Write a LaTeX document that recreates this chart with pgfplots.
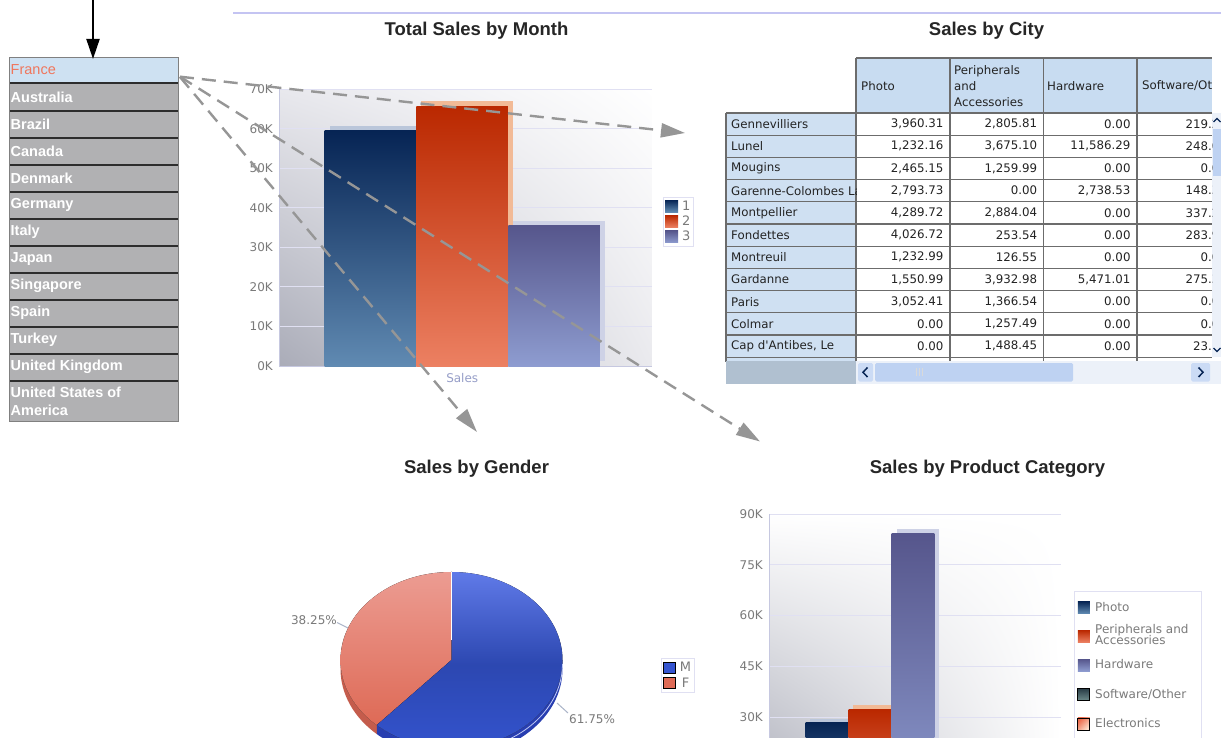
\documentclass[border=0pt]{standalone}
\usepackage{pgfplots}
\pgfplotsset{compat=1.18}
\usepackage{pgfplotstable}
\usepackage{fontspec}
\setmainfont{Liberation Sans}
\newfontfamily\dejavu{DejaVu Sans}
\usetikzlibrary{arrows.meta,shadings}

% ---------- colours ----------
\definecolor{gridline}{RGB}{224,224,242}
\definecolor{axisline}{RGB}{198,200,224}
\definecolor{ticktext}{RGB}{122,122,122}
\definecolor{titletext}{RGB}{38,38,38}
\definecolor{saleslabel}{RGB}{150,158,200}
\definecolor{listgrey}{RGB}{177,177,179}
\definecolor{listsel}{RGB}{206,225,242}
\definecolor{listsep}{RGB}{45,45,45}
\definecolor{listred}{RGB}{240,118,92}
\definecolor{topline}{RGB}{196,196,242}
\definecolor{dashgrey}{RGB}{150,150,150}
\definecolor{navyA}{RGB}{6,36,84}
\definecolor{navyB}{RGB}{96,138,178}
\definecolor{redA}{RGB}{186,40,0}
\definecolor{redB}{RGB}{236,128,98}
\definecolor{lavA}{RGB}{86,86,140}
\definecolor{lavB}{RGB}{142,156,208}
\definecolor{navyFace}{RGB}{186,198,218}
\definecolor{redFace}{RGB}{242,186,150}
\definecolor{lavFace}{RGB}{206,210,230}
\definecolor{slateA}{RGB}{40,60,70}
\definecolor{slateB}{RGB}{110,140,140}
\definecolor{elecA}{RGB}{236,108,78}
\definecolor{elecB}{RGB}{252,226,206}
\definecolor{bgA}{RGB}{232,232,237}
\definecolor{bgB}{RGB}{170,172,184}
\definecolor{bgC}{RGB}{234,234,238}
\definecolor{hdrblue}{RGB}{200,220,241}
\definecolor{rowblue}{RGB}{207,224,242}
\definecolor{cellline}{RGB}{108,108,108}
\definecolor{tabletext}{RGB}{35,35,35}
\definecolor{scrolltrack}{RGB}{236,241,249}
\definecolor{scrollthumb}{RGB}{190,210,242}
\definecolor{scrollcorner}{RGB}{176,192,208}
\definecolor{pieMA}{RGB}{96,122,232}
\definecolor{pieMB}{RGB}{52,84,208}
\definecolor{pieMside}{RGB}{40,62,176}
\definecolor{pieFA}{RGB}{236,156,146}
\definecolor{pieFB}{RGB}{222,106,86}
\definecolor{pieFside}{RGB}{196,92,76}
\definecolor{leader}{RGB}{170,180,200}

% ---------- fonts ----------
\newcommand\tickfont{\dejavu\fontsize{12}{14}\selectfont}
\newcommand\legfont{\dejavu\fontsize{12}{14}\selectfont\color{ticktext}}
\newcommand\smalllegfont{\dejavu\fontsize{13}{14}\selectfont\color{ticktext}}
\newcommand\titlefont{\bfseries\fontsize{18.5}{22}\selectfont\color{titletext}}
\newcommand\tablefont{\dejavu\fontsize{11.8}{16}\selectfont\color{tabletext}}
\newcommand\listfont{\bfseries\fontsize{14.5}{16}\selectfont}

% ---------- data ----------
\pgfplotstableread{
gender share
M 61.75
F 38.25
}\genderdata
\pgfplotstablegetelem{1}{share}\of\genderdata
\let\shareF\pgfplotsretval

\pgfplotsset{
  lightaxis/.style={
    scale only axis, clip=false,
    axis lines*=left, axis line style={axisline, line width=1pt, -},
    ymajorgrids, grid style={gridline, line width=1pt},
    major tick length=0pt, scaled y ticks=false,
    yticklabel style={font=\tickfont, text=ticktext, xshift=-3pt},
    legend cell align=left,
  },
}

\begin{document}
\begin{tikzpicture}[x=1pt,y=1pt]
\useasboundingbox (0,0) rectangle (1221,-738);
\clip (0,0) rectangle (1221,-738);
\fill[white] (0,0) rectangle (1221,-738);

% ---------- country list ----------
\fill[listsel] (9,-57) rectangle (178,-83.5);
\fill[listgrey] (9,-83.5) rectangle (178,-421);
\foreach \yy in {83.5,111,138,165,192,219,246,273,300,327,354,381}
  \draw[listsep, line width=2pt] (9,-\yy) -- (178,-\yy);
\draw[gray, line width=0.8pt] (9,-57) rectangle (178,-421);
\node[anchor=west, inner sep=0pt, text=listred, font=\listfont\mdseries] at (10.5,-70) {France};
\foreach \nm/\yy in {Australia/97, Brazil/124, Canada/151, Denmark/178, Germany/205,
  Italy/232, Japan/259, Singapore/286, Spain/313, Turkey/340, United Kingdom/367,
  United States of/392, America/410}
  \node[anchor=west, inner sep=0pt, text=white, font=\listfont] at (10.5,-\yy) {\nm};

% rule along the top
\draw[topline, line width=2pt] (233,-13.3) -- (1221,-13.3);

% ---------- titles ----------
\node[font=\titlefont] at (476.5,-30.5) {Total Sales by Month};
\node[font=\titlefont] at (986.5,-30.5) {Sales by City};
\node[font=\titlefont] at (476.5,-468.5) {Sales by Gender};
\node[font=\titlefont] at (987.5,-468.5) {Sales by Product Category};

% ---------- Total Sales by Month ----------
\begin{axis}[lightaxis,
  at={(279.3pt,-366pt)}, anchor=south west,
  width=372.4pt, height=276.7pt,
  xmin=0.011, xmax=4.06, ymin=0, ymax=70000,
  ytick={0,10000,...,70000},
  yticklabels={0K,10K,20K,30K,40K,50K,60K,70K},
  xtick={2}, xticklabels={Sales},
  xticklabel style={font=\tickfont, text=saleslabel, yshift=-4pt},
  axis background/.style={shade, upper left=bgA, lower left=bgB, upper right=white, lower right=bgC},
  bar width=91.5pt,
  legend style={at={(1.0295,0.612)}, anchor=north west, draw=gridline, line width=0.8pt,
    fill=white, font=\smalllegfont, inner xsep=2pt, inner ysep=2pt, row sep=1.3pt,
    nodes={inner sep=1.5pt},
    /tikz/every odd column/.append style={column sep=2.5pt}},
  legend image code/.code={\fill[#1] (0pt,-6pt) rectangle (13pt,6pt);},
]
\addplot[ybar, bar shift=0pt, draw=none, fill=navyFace, xshift=5pt, yshift=5pt, forget plot] coordinates {(1,59500)};
\addplot[ybar, bar shift=0pt, draw=none, top color=navyA, bottom color=navyB] coordinates {(1,59500)};
\addlegendentry{1}
\addplot[ybar, bar shift=0pt, draw=none, fill=redFace, xshift=5pt, yshift=5pt, forget plot] coordinates {(2,65700)};
\addplot[ybar, bar shift=0pt, draw=none, top color=redA, bottom color=redB] coordinates {(2,65700)};
\addlegendentry{2}
\addplot[ybar, bar shift=0pt, draw=none, fill=lavFace, xshift=5pt, yshift=5pt, forget plot] coordinates {(3,35500)};
\addplot[ybar, bar shift=0pt, draw=none, top color=lavA, bottom color=lavB] coordinates {(3,35500)};
\addlegendentry{3}
\end{axis}

% ---------- Sales by City ----------
\fill[hdrblue] (856,-58) rectangle (1212,-113);
\fill[rowblue] (726,-113) rectangle (856,-362);
\fill[scrolltrack] (1212,-113) rectangle (1221,-357);
\fill[scrollthumb] (1213,-129) rectangle (1221,-176);
\begin{scope}[cellline, line width=1.3pt]
  \draw (856,-58) -- (1212,-58);
  \foreach \yy in {113,135.2,157.4,179.6,201.8,224,246.2,268.4,290.6,312.8,335,357.2}
    \draw (726,-\yy) -- (1212,-\yy);
  \draw (726,-113) -- (726,-362);
  \draw (856,-58) -- (856,-362);
  \foreach \xx in {950,1043.3,1137}
    \draw (\xx,-58) -- (\xx,-362);
\end{scope}
\node[anchor=west, font=\tablefont, inner sep=0pt] at (861,-86) {Photo};
\node[anchor=west, font=\tablefont, align=left, inner sep=0pt] at (954,-86) {Peripherals\\and\\Accessories};
\node[anchor=west, font=\tablefont, inner sep=0pt] at (1047,-86) {Hardware};
\begin{scope}
  \clip (1137,-58) rectangle (1212,-113);
  \node[anchor=west, font=\tablefont, inner sep=0pt] at (1142,-86) {Software/Other};
\end{scope}
\foreach \i/\nm/\pa/\pb/\pc/\pd in {
  1/Gennevilliers/{3,960.31}/{2,805.81}/0.00/219.26,
  2/Lunel/{1,232.16}/{3,675.10}/{11,586.29}/248.05,
  3/Mougins/{2,465.15}/{1,259.99}/0.00/0.00,
  4/Garenne-Colombes La/{2,793.73}/0.00/{2,738.53}/148.32,
  5/Montpellier/{4,289.72}/{2,884.04}/0.00/337.28,
  6/Fondettes/{4,026.72}/253.54/0.00/283.90,
  7/Montreuil/{1,232.99}/126.55/0.00/0.00,
  8/Gardanne/{1,550.99}/{3,932.98}/{5,471.01}/275.34,
  9/Paris/{3,052.41}/{1,366.54}/0.00/0.00,
  10/Colmar/0.00/{1,257.49}/0.00/0.00,
  11/{Cap d'Antibes, Le}/0.00/{1,488.45}/0.00/23.15}{
  \pgfmathsetmacro\yc{-(113+22.2*(\i-0.5))}
  \begin{scope}
    \clip (726,-100) rectangle (856,-400);
    \node[anchor=west, font=\tablefont, inner sep=0pt] at (731,\yc) {\nm};
  \end{scope}
  \node[anchor=east, font=\tablefont, inner sep=0pt] at (943.5,\yc) {\pa};
  \node[anchor=east, font=\tablefont, inner sep=0pt] at (1037.3,\yc) {\pb};
  \node[anchor=east, font=\tablefont, inner sep=0pt] at (1130.7,\yc) {\pc};
  \begin{scope}
    \clip (1137,-100) rectangle (1212,-400);
    \node[anchor=east, font=\tablefont, inner sep=0pt] at (1227,\yc) {\pd};
  \end{scope}
}
% scroll bars
\fill[scrollcorner] (726,-361) rectangle (856,-383.5);
\fill[scrolltrack] (856,-361) rectangle (1221,-383.5);
\fill[scrollthumb, rounded corners=1.5pt] (875,-363) rectangle (1073,-381.5);
\draw[white!70!gray] (916,-368) -- (916,-376) (919,-368) -- (919,-376) (922,-368) -- (922,-376);
\fill[scrollthumb!80!white, rounded corners=1.5pt] (858,-363) rectangle (873,-381.5);
\fill[scrollthumb!80!white, rounded corners=1.5pt] (1191,-363) rectangle (1210,-381.5);
\draw[navyA, line width=1.5pt] (867.5,-367.5) -- (863,-372.3) -- (867.5,-377);
\draw[navyA, line width=1.5pt] (1198.5,-367.5) -- (1203,-372.3) -- (1198.5,-377);
\draw[navyA, line width=1.3pt] (1213.5,-122) -- (1217,-118.5) -- (1220.5,-122);
\draw[navyA, line width=1.3pt] (1213.5,-348) -- (1217,-351.5) -- (1220.5,-348);

% ---------- Sales by Gender ----------
\pgfmathsetmacro\angF{90+3.6*\shareF}
\pgfmathsetmacro\fx{111*cos(\angF)}
\pgfmathsetmacro\fy{88*sin(\angF)}
\pgfmathsetmacro\fyd{\fy-9}
\begin{axis}[
  at={(340.5pt,-758pt)}, anchor=south west, scale only axis,
  width=222pt, height=186pt,
  xmin=-111, xmax=111, ymin=-98, ymax=88,
  hide axis, clip=false,
  legend style={at={(1.4423,0.536)}, anchor=north west, draw=gridline, line width=0.8pt,
    fill=white, font=\smalllegfont, inner xsep=2pt, inner ysep=2pt, row sep=1.5pt,
    nodes={inner sep=1.5pt},
    /tikz/every odd column/.append style={column sep=2.5pt}},
  legend image code/.code={\fill[#1] (0pt,-5.6pt) rectangle (12pt,5.6pt);},
]
\addlegendimage{fill=pieMB}
\addlegendentry{M}
\addlegendimage{fill=pieFB}
\addlegendentry{F}
% rim below the top face
\fill[pieFside] (-111,0) arc[start angle=180, end angle=\angF, x radius=111, y radius=88]
  -- (\fx,\fyd) arc[start angle=\angF, end angle=180, x radius=111, y radius=88] -- cycle;
\fill[pieMside] (\fx,\fy) arc[start angle=\angF, end angle=360, x radius=111, y radius=88]
  -- (111,-9) arc[start angle=360, end angle=\angF, x radius=111, y radius=88] -- cycle;
% top face
\fill[top color=pieFA, bottom color=pieFB] (0,0) -- (0,88)
  arc[start angle=90, end angle=\angF, x radius=111, y radius=88] -- cycle;
\fill[top color=pieMA, bottom color=pieMB, middle color=pieMB!85!black] (0,0) -- (\fx,\fy)
  arc[start angle=\angF, end angle=450, x radius=111, y radius=88] -- cycle;
\draw[white, line width=1pt] (0,88) -- (0,20);
\draw[white!60!pieMA, line width=0.8pt] (111,-4) arc[start angle=0, end angle=-60, x radius=111, y radius=88];
\end{axis}
\draw[leader, line width=1pt] (337,-622.5) -- (348,-628);
\draw[leader, line width=1pt] (557,-703) -- (568,-713);
\node[anchor=east, font=\legfont, inner sep=0pt] at (337,-620) {38.25\%};
\node[anchor=west, font=\legfont, inner sep=0pt] at (569,-719.5) {61.75\%};

% ---------- Sales by Product Category ----------
\begin{axis}[lightaxis,
  at={(769.3pt,-818.8pt)}, anchor=south west,
  width=291.4pt, height=304.8pt,
  xmin=-0.342, xmax=6.435, ymin=0, ymax=90000,
  ytick={0,15000,...,90000},
  yticklabels={0K,15K,30K,45K,60K,75K,90K},
  xtick=\empty,
  axis background/.style={shade, upper left=white, lower left=bgB, upper right=white, lower right=white},
  bar width=42.6pt,
  legend style={at={(1.0456,0.7484)}, anchor=north west, draw=gridline, line width=0.8pt,
    fill=white, font=\legfont, inner xsep=3pt, inner ysep=9pt, row sep=14.8pt,
    nodes={inner sep=2pt},
    /tikz/every odd column/.append style={column sep=3pt}},
  legend image code/.code={\fill[#1] (0pt,-6pt) rectangle (12pt,6pt);},
]
\addplot[ybar, bar shift=0pt, draw=none, fill=navyFace, xshift=4pt, yshift=4pt, forget plot] coordinates {(1,28400)};
\addplot[ybar, bar shift=0pt, draw=none, top color=navyA, bottom color=navyB] coordinates {(1,28400)};
\addlegendentry{Photo}
\addplot[ybar, bar shift=0pt, draw=none, fill=redFace, xshift=4pt, yshift=4pt, forget plot] coordinates {(2,32300)};
\addplot[ybar, bar shift=0pt, draw=none, top color=redA, bottom color=redB] coordinates {(2,32300)};
\addlegendentry{\raisebox{0pt}[8pt][2pt]{\begin{tabular}{@{}l@{}}Peripherals and\hspace*{8pt}\\[-3pt]Accessories\end{tabular}}}
\addplot[ybar, bar shift=0pt, draw=none, fill=lavFace, xshift=5pt, yshift=5pt, forget plot] coordinates {(3,84100)};
\addplot[ybar, bar shift=0pt, draw=none, top color=lavA, bottom color=lavB] coordinates {(3,84100)};
\addlegendentry{Hardware}
\addlegendimage{top color=slateA, bottom color=slateB}
\addlegendentry{Software/Other}
\addlegendimage{left color=elecA, right color=elecB, shading angle=45}
\addlegendentry{Electronics}
\end{axis}

% ---------- drill-down arrows ----------
\begin{scope}[dashgrey, line width=2.4pt, dash pattern=on 14pt off 8pt]
  \draw[-{Triangle[length=24pt,width=14pt]}] (180,-76.7) -- (685,-133);
  \draw[-{Triangle[length=24pt,width=14pt]}] (180,-77) -- (477,-432);
  \draw[-{Triangle[length=24pt,width=14pt]}] (180,-76.7) -- (760,-441.5);
\end{scope}
\draw[black, line width=2pt, -{Triangle[length=20pt,width=13pt]}] (93,0) -- (93,-59);
\end{tikzpicture}
\end{document}
